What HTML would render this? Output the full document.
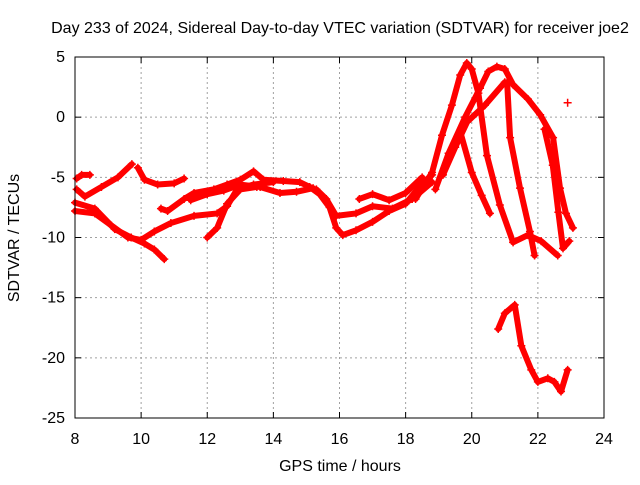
<!DOCTYPE html>
<html><head><meta charset="utf-8"><style>
body{margin:0;background:#fff;width:640px;height:480px;overflow:hidden}
text{font-family:"Liberation Sans",sans-serif;font-size:16px;fill:#000}
</style></head><body>
<svg id="chart" width="640" height="480" viewBox="0 0 640 480">
<text x="340" y="33" text-anchor="middle">Day 233 of 2024, Sidereal Day-to-day VTEC variation (SDTVAR) for receiver joe2</text>
<g id="grid"></g>
<g id="axes"></g>
<g id="series"></g>
<rect x="75" y="57" width="529" height="361" fill="none" stroke="#000" stroke-width="1"/>
<text x="340" y="471" text-anchor="middle">GPS time / hours</text>
<text transform="translate(19,238) rotate(-90)" text-anchor="middle">SDTVAR / TECUs</text>
</svg>
<script>
const xTicks=[8,10,12,14,16,18,20,22,24];
const yTicks=[5,0,-5,-10,-15,-20,-25];
const trackA1=[[8.05,-5.1],[8.2,-4.8],[8.45,-4.8]];
const trackA2=[[8.05,-6.0],[8.3,-6.6],[8.8,-5.8],[9.3,-5.0],[9.72,-3.9]];
const trackA3=[[9.9,-4.2],[10.1,-5.2],[10.5,-5.6],[11.0,-5.5],[11.3,-5.1]];
const trackB1=[[8.0,-7.8],[8.6,-8.0],[9.1,-9.0],[9.6,-10.0],[10.0,-10.2],[10.4,-9.5],[10.9,-8.8],[11.6,-8.2],[12.3,-8.0],[12.6,-7.4],[12.9,-6.0],[13.4,-5.6],[14.0,-5.4]];
const trackB2=[[8.0,-7.1],[8.6,-7.6],[9.2,-9.3],[9.7,-10.0],[10.1,-10.5],[10.4,-11.0],[10.7,-11.8]];
const trackC1=[[10.6,-7.6],[10.8,-7.8],[11.3,-6.8],[11.6,-6.3],[12.2,-6.0],[12.6,-5.6],[13.0,-5.2],[13.4,-4.5],[13.7,-5.2],[14.3,-5.3],[14.8,-5.4],[15.1,-5.8]];
const trackC2=[[11.5,-6.9],[12.0,-6.4],[12.5,-6.1],[13.0,-5.6],[13.6,-5.8],[14.2,-6.3],[14.7,-6.2],[15.2,-5.9]];
const trackC3=[[12.0,-10.0],[12.3,-9.2],[12.6,-7.2],[13.0,-6.0],[13.5,-5.8]];
const trackD1=[[15.1,-5.8],[15.4,-6.4],[15.7,-7.5],[15.9,-9.2],[16.1,-9.8],[16.5,-9.4],[17.0,-8.7],[17.5,-7.8],[18.0,-7.2],[18.5,-5.5],[18.8,-4.8]];
const trackD2=[[15.3,-6.0],[15.6,-6.8],[15.9,-8.2],[16.5,-8.0],[17.0,-7.4],[17.6,-7.6],[18.2,-6.8],[18.8,-5.4]];
const trackD3=[[16.6,-6.8],[17.0,-6.4],[17.5,-6.9],[18.0,-6.3],[18.5,-5.0]];
const trackE1=[[18.3,-6.8],[18.8,-4.6],[19.1,-1.5],[19.4,1.0],[19.65,3.5],[19.85,4.5],[20.0,4.0],[20.2,2.0],[20.46,-3.2],[20.85,-7.3],[21.25,-10.4],[21.7,-9.8],[22.1,-10.3],[22.6,-11.5]];
const trackE2=[[18.9,-6.0],[19.3,-3.0],[19.8,0.0],[20.25,2.4],[20.5,3.8],[20.76,4.2],[21.0,4.0],[21.25,2.7],[21.7,1.5],[22.07,0.2],[22.46,-1.7],[22.67,-5.9],[22.85,-8.0],[23.06,-9.2]];
const trackE3=[[21.07,2.9],[21.16,-1.7],[21.46,-5.9],[21.76,-9.5],[21.9,-11.5]];
const trackE4=[[21.0,2.9],[20.4,1.0],[19.86,-0.4],[19.5,-2.5],[19.13,-4.8]];
const trackE5=[[19.65,-1.2],[20.0,-4.6],[20.3,-6.5],[20.55,-8.0]];
const trackE6=[[22.2,-1.0],[22.45,-4.0],[22.62,-7.9],[22.76,-10.9],[22.95,-10.3]];
const trackF=[[20.8,-17.6],[21.0,-16.3],[21.3,-15.6],[21.5,-19.0],[21.8,-21.0],[22.0,-22.0],[22.3,-21.7],[22.5,-22.0],[22.7,-22.8],[22.9,-21.0]];
const trackG=[[22.9,1.2]];
const tracks=[trackA1,trackA2,trackA3,trackB1,trackB2,trackC1,trackC2,trackC3,trackD1,trackD2,trackD3,trackE1,trackE2,trackE3,trackE4,trackE5,trackE6,trackF,trackG];

const X0=75,X1=604,Y0=418,Y1=57;
const xs=h=>X0+(h-8)/(24-8)*(X1-X0);
const ys=v=>Y0-(v+25)/30*(Y0-Y1);
const NS='http://www.w3.org/2000/svg';
const grid=document.getElementById('grid'),axes=document.getElementById('axes'),ser=document.getElementById('series');
function mk(tag,attrs,parent){const e=document.createElementNS(NS,tag);for(const k in attrs)e.setAttribute(k,attrs[k]);parent.appendChild(e);return e;}
xTicks.forEach(t=>{const x=xs(t);
 if(t>8&&t<24){const g=mk('line',{x1:x,x2:x,y1:Y1,y2:Y0,stroke:'#a0a0a0','stroke-dasharray':'2,3'},grid);}
 const k=mk('line',{x1:x,x2:x,y1:Y0,y2:Y0-6,stroke:'#000'},axes);
 const k2=mk('line',{x1:x,x2:x,y1:Y1,y2:Y1+6,stroke:'#000'},axes);
 const l=mk('text',{x:x,y:Y0+26,'text-anchor':'middle'},axes);l.textContent=t;});
yTicks.forEach(t=>{const y=ys(t);
 if(t<5&&t>-25){const g=mk('line',{x1:X0,x2:X1,y1:y,y2:y,stroke:'#a0a0a0','stroke-dasharray':'2,3'},grid);}
 const k=mk('line',{x1:X0,x2:X0+6,y1:y,y2:y,stroke:'#000'},axes);
 const k2=mk('line',{x1:X1,x2:X1-6,y1:y,y2:y,stroke:'#000'},axes);
 const l=mk('text',{x:X0-10,y:y+5,'text-anchor':'end'},axes);l.textContent=t;});
tracks.forEach(tr=>{
 if(tr.length>1){const p=mk('polyline',{points:tr.map(d=>xs(d[0])+','+ys(d[1])).join(' '),fill:'none',stroke:'#ff0000','stroke-width':6,'stroke-linejoin':'round','stroke-linecap':'round'},ser);
  }
 tr.forEach(d=>{const x=xs(d[0]),y=ys(d[1]);
  const m=mk('path',{d:`M${x-4},${y}H${x+4}M${x},${y-4}V${y+4}`,stroke:'#ff0000','stroke-width':1.5},ser);
  });
});
</script>
</body></html>
